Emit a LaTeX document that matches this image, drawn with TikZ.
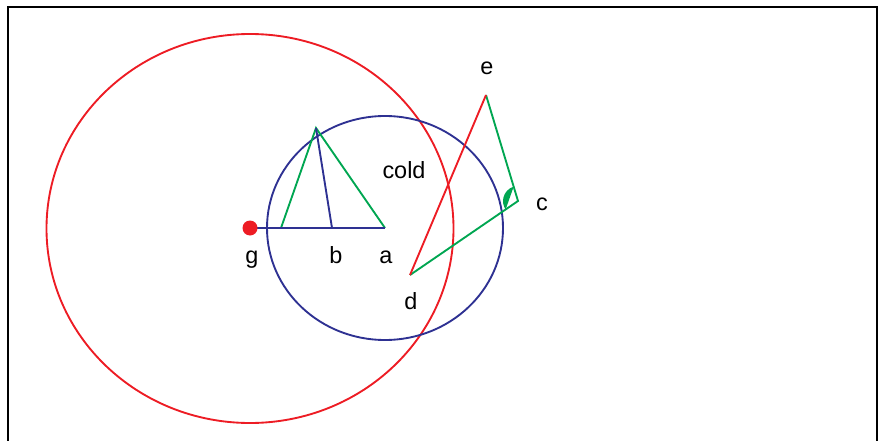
\documentclass[tikz,border=0pt]{standalone}
\usepackage{fontspec}
\setmainfont{Liberation Sans}
\usepackage{tikz}
\usetikzlibrary{calc}
\definecolor{gred}{RGB}{237,28,36}
\definecolor{gblue}{RGB}{46,49,146}
\definecolor{ggreen}{RGB}{0,166,81}
\tikzset{
  frm/.style={draw=black, line width=1.9pt},
  rline/.style={draw=gred, line width=1.6pt},
  bline/.style={draw=gblue, line width=1.6pt},
  gline/.style={draw=ggreen, line width=1.6pt, line join=miter},
  lbl/.style={anchor=base, inner sep=0pt, font=\fontsize{20}{24}\selectfont},
  every picture/.append style={line cap=butt}
}

\begin{document}
\begin{tikzpicture}[x=0.03cm, y=0.03cm]
  \clip (0,0) rectangle (880,440);
  \draw[frm] (8,-10) rectangle (877,433);

  % points
  \coordinate (g) at (250,212);
  \coordinate (a) at (385,212);
  \coordinate (b) at (332,212);
  \coordinate (f) at (281,212);
  \coordinate (t) at (316,312);
  \coordinate (e) at (486,345);
  \coordinate (c) at (518,239);
  \coordinate (d) at (410,165);

  % circles
  \draw[rline] (250,211.5) ellipse[x radius=203.5, y radius=194.5];
  \draw[bline] (a) ellipse[x radius=118, y radius=112];

  % triangle on g--a
  \draw[gline] (f) -- (t) -- (a);
  \draw[bline] (g) -- (a);
  \draw[bline] (t) -- (b);
  \fill[gred] (g) circle[radius=7.5];

  % triangle d--e--c
  \draw[gline] (e) -- (c) -- (d);
  \draw[rline] (d) -- (e);
  \fill[ggreen] (c) ++(106.8:15) arc[start angle=106.8, end angle=214.4, radius=15] -- cycle;

  % labels
  \node[lbl] (lg) at (252,177) {g};
  \node[lbl] (lb) at (336,177) {b};
  \node[lbl] (la) at (386,177) {a};
  \node[lbl] (lcold) at (404,262) {cold};
  \node[lbl] (le) at (487,365) {e};
  \node[lbl] (lc) at (542,230) {c};
  \node[lbl] (ld) at (411,131) {d};
\end{tikzpicture}
\end{document}
